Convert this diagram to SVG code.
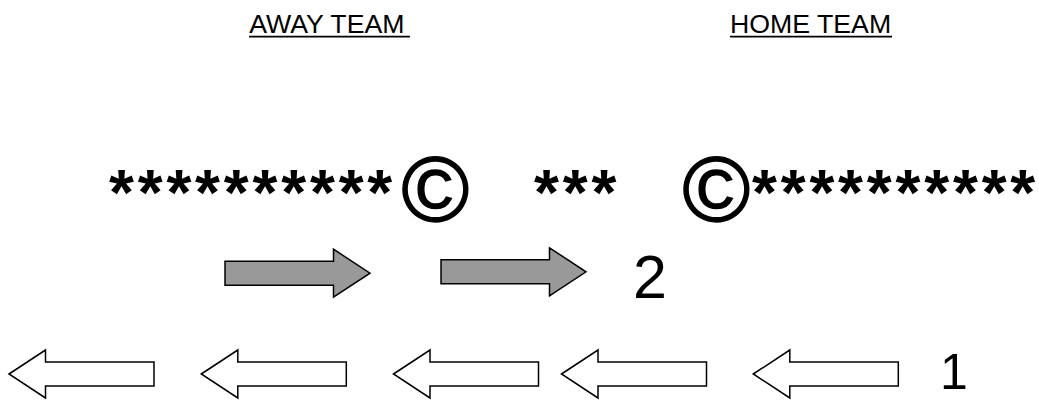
<svg xmlns="http://www.w3.org/2000/svg" xmlns:xlink="http://www.w3.org/1999/xlink" width="1039" height="401" viewBox="0 0 1039 401">
<style>
text{font-family:"Liberation Sans",Arial,sans-serif;fill:#000}
.title{font-size:26.7px}
.stars{font-size:64px;font-weight:bold;letter-spacing:3.8px}
.copy{font-size:92px;stroke:#000;stroke-width:1.3px}
.num{font-size:61px}
.ul{stroke:#000;stroke-width:1.6}
.gray{fill:#999999;stroke:#000;stroke-width:1.5;stroke-linejoin:miter}
.open{fill:#fff;stroke:#000;stroke-width:1.5;stroke-linejoin:miter}
</style>
<defs>
<path id="rArrow" d="M0,-12 H108.5 V-24 L145,0 L108.5,24 V12 H0 Z"/>
<path id="lArrow" d="M0,0 L36.5,-24 V-12 H145 V12 H36.5 V24 Z"/>
</defs>
<rect width="1039" height="401" fill="#fff"/>
<g id="away-title">
<text class="title" x="249.3" y="33.3">AWAY TEAM</text>
<line class="ul" x1="249" y1="36.6" x2="410" y2="36.6"/>
</g>
<g id="home-title">
<text class="title" x="730" y="33.3">HOME TEAM</text>
<line class="ul" x1="730" y1="36.6" x2="892" y2="36.6"/>
</g>
<g id="away-row">
<text class="stars" x="109" y="215">**********</text>
<text class="copy" x="401.5" y="221">©</text>
</g>
<g id="middle-row">
<text class="stars" x="534" y="215">***</text>
</g>
<g id="home-row">
<text class="copy" x="682.5" y="221">©</text>
<text class="stars" x="752" y="215">**********</text>
</g>
<g id="label-2"><text class="num" x="633" y="298">2</text></g>
<g id="label-1"><text class="num" x="940" y="389" style="font-size:50px">1</text></g>
<g id="connectors">
<use xlink:href="#rArrow" class="gray" transform="translate(225,273.2)"/>
<use xlink:href="#rArrow" class="gray" transform="translate(441,271.8)"/>
<use xlink:href="#lArrow" class="open" transform="translate(9,374)"/>
<use xlink:href="#lArrow" class="open" transform="translate(201.3,374)"/>
<use xlink:href="#lArrow" class="open" transform="translate(393.5,374)"/>
<use xlink:href="#lArrow" class="open" transform="translate(561.5,374)"/>
<use xlink:href="#lArrow" class="open" transform="translate(753.3,374)"/>
</g>
</svg>
